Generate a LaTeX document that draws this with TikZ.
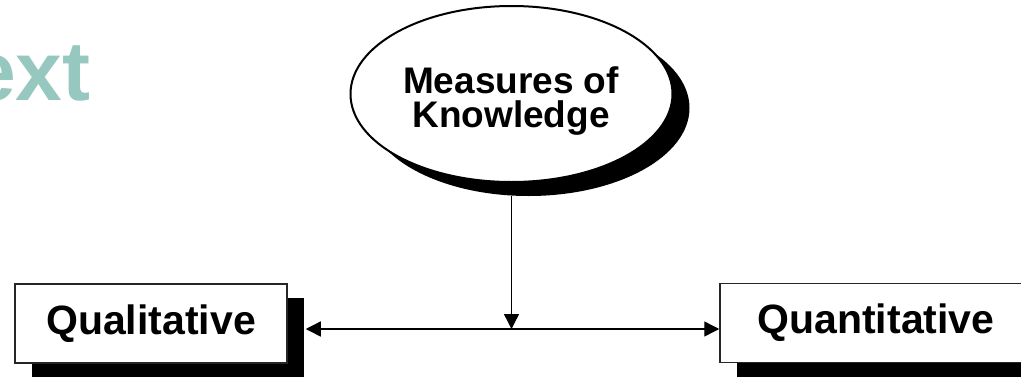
\documentclass[tikz,border=0pt]{standalone}
\usepackage{fontspec}
\setmainfont{Liberation Sans}
\usepackage{xcolor}
\usepackage{tikz}
\usetikzlibrary{arrows.meta,shapes.geometric,shadows,positioning}
\definecolor{titleteal}{RGB}{150,200,192}

\begin{document}
\begin{tikzpicture}[x=1pt,y=-1pt,
    shadowed/.style={fill=white, drop shadow={shadow xshift=17pt,
      shadow yshift=-14pt, fill=black, opacity=1}},
    kind/.style={shadowed, draw=black!85, line width=1.5pt, inner sep=0pt,
      minimum height=79pt, font=\fontsize{41}{41}\selectfont\bfseries},
    link/.style={line width=1.4pt, -{Triangle[length=15pt,width=15pt]}}]
    \useasboundingbox (0,0) rectangle (1021,378);

    % Title remnant (cut at the left edge)
    \node[anchor=base west, inner sep=0pt, text=titleteal,
      font=\fontsize{84}{84}\selectfont\bfseries] (title) at (-31,100) {ext};

    % Measures of knowledge
    \node[ellipse, shadowed, draw, line width=2pt, inner sep=0pt,
      minimum width=322pt, minimum height=176pt] (measures) at (511.5,94) {};
    \node[align=center, inner sep=0pt,
      font=\fontsize{37}{34}\selectfont\bfseries] (measurestext) at (511,101)
      {Measures of\\Knowledge};

    % The two kinds
    \node[kind, minimum width=272pt] (qual) at (151,323.5) {Qualitative};
    \node[kind, minimum width=312pt] (quan) at (876,323) {Quantitative};

    % Connectors
    \coordinate (joint) at (measures.south |- 0,329);
    \draw[link] ([yshift=-13pt]measures.south) -- (joint);
    \draw[link] (joint) -- ([xshift=18pt]qual.east |- joint);
    \draw[link] (joint) -- (quan.west |- joint);
  \end{tikzpicture}
\end{document}
